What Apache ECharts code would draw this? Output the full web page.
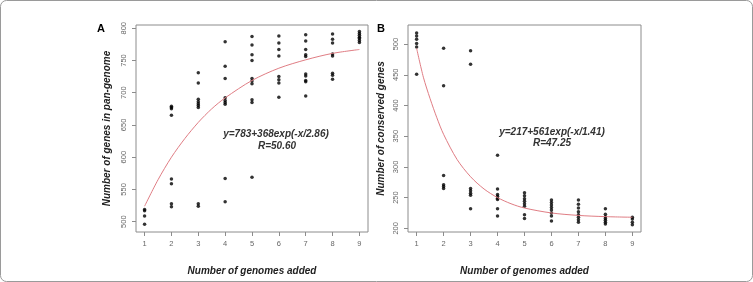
<!DOCTYPE html>
<html>
<head>
<meta charset="utf-8">
<script src="https://cdn.jsdelivr.net/npm/echarts@6/dist/echarts.min.js"></script>
<style>
  html, body { margin: 0; padding: 0; background: #fff; }
  #chart { width: 753px; height: 282px; }
</style>
</head>
<body>
<div id="chart"></div>
<script>
// number of genomes added (x ticks)
const genomes = [1, 2, 3, 4, 5, 6, 7, 8, 9]

// A: genes in pan-genome, one list per number of genomes
const panGenes = [
  [519, 517, 509, 496],
  [679, 677, 675, 665, 566, 559, 528, 523],
  [731, 715, 690, 686, 683, 680, 677, 528, 524],
  [779, 741, 722, 692, 688, 685, 682, 567, 531],
  [787, 774, 759, 750, 722, 718, 714, 689, 685, 569],
  [788, 777, 767, 757, 725, 720, 715, 693],
  [790, 780, 767, 759, 756, 729, 726, 719, 717, 695],
  [791, 783, 777, 760, 757, 730, 727, 721],
  [795, 792, 789, 786, 784, 781, 778],
]
const panTicks = [500, 550, 600, 650, 700, 750, 800]
// fitted curve
const panFitX = [1, 1.5, 2, 2.5, 3, 3.5, 4, 5, 6, 7, 8, 9]
const panFit = [524, 565, 600, 629, 654, 675, 692, 719, 738, 751, 761, 767]

// B: conserved genes
const coreGenes = [
  [518, 513, 508, 501, 495, 451],
  [493, 432, 286, 271, 268, 265],
  [489, 467, 265, 261, 257, 254, 232],
  [319, 264, 255, 252, 249, 247, 232, 220],
  [258, 253, 248, 244, 240, 236, 222, 216],
  [246, 242, 238, 234, 230, 225, 220, 212],
  [246, 239, 233, 227, 222, 218, 214, 210],
  [232, 223, 219, 216, 213, 210, 207],
  [218, 215, 210, 206],
]
const coreTicks = [200, 250, 300, 350, 400, 450, 500]
const coreFitX = [1, 1.25, 1.5, 1.75, 2, 2.5, 3, 3.5, 4, 4.5, 5, 6, 7, 8, 9]
const coreFit = [493, 446, 411, 380, 353, 312, 284, 264, 250, 240, 233, 225, 221, 219, 218]

const font = '"Liberation Sans", Arial, sans-serif'
const boxColor = '#8c8c8c'
const fitColor = '#e07d84'

function toPoints(groups) {
  const out = []
  groups.forEach((vals, i) => vals.forEach(v => out.push([genomes[i], v])))
  return out
}

function xAxisFor(gridIndex) {
  return {
    type: 'value',
    gridIndex,
    min: 0.68,
    max: 9.32,
    name: 'Number of genomes added',
    nameLocation: 'middle',
    nameGap: 34,
    nameTextStyle: { fontFamily: font, fontSize: 10, fontWeight: 'bold', fontStyle: 'italic', color: '#222' },
    axisLine: { show: false },
    splitLine: { show: false },
    axisTick: { show: true, length: 4, customValues: genomes, lineStyle: { color: boxColor } },
    axisLabel: { customValues: genomes, margin: 8, fontFamily: font, fontSize: 7.5, color: '#666' },
  }
}

function yAxisFor(gridIndex, min, max, ticks, name, gap) {
  return {
    type: 'value',
    gridIndex,
    min,
    max,
    name,
    nameLocation: 'middle',
    nameGap: gap,
    nameTextStyle: { fontFamily: font, fontSize: 10, fontWeight: 'bold', fontStyle: 'italic', color: '#222' },
    axisLine: { show: false },
    splitLine: { show: false },
    axisTick: { show: true, length: 4, customValues: ticks, lineStyle: { color: boxColor } },
    axisLabel: {
      customValues: ticks, rotate: 90, margin: 8,
      fontFamily: font, fontSize: 7.5, color: '#666',
    },
  }
}

const chart = echarts.init(document.getElementById('chart'))

const textStyle = (size, color) => ({
  fontFamily: font, fontSize: size, fontWeight: 'bold', fontStyle: 'italic',
  fill: color, align: 'center', verticalAlign: 'middle',
})

const option = {
  backgroundColor: '#fff',
  animation: false,
  grid: [
    { left: 136, top: 25, width: 232, height: 207, show: true, borderColor: boxColor, borderWidth: 1, backgroundColor: 'transparent' },
    { left: 408, top: 25, width: 233, height: 207, show: true, borderColor: boxColor, borderWidth: 1, backgroundColor: 'transparent' },
  ],
  xAxis: [xAxisFor(0), xAxisFor(1)],
  yAxis: [
    yAxisFor(0, 484, 805, panTicks, 'Number of genes in pan-genome', 24),
    yAxisFor(1, 194, 531, coreTicks, 'Number of conserved genes', 22),
  ],
  series: [
    {
      type: 'line', xAxisIndex: 0, yAxisIndex: 0,
      data: panFitX.map((x, i) => [x, panFit[i]]),
      smooth: 0.3, symbol: 'none',
      lineStyle: { color: fitColor, width: 1 },
    },
    {
      type: 'scatter', xAxisIndex: 0, yAxisIndex: 0,
      data: toPoints(panGenes),
      symbolSize: 3.5, itemStyle: { color: '#000' },
    },
    {
      type: 'line', xAxisIndex: 1, yAxisIndex: 1,
      data: coreFitX.map((x, i) => [x, coreFit[i]]),
      smooth: 0.3, symbol: 'none',
      lineStyle: { color: fitColor, width: 1 },
    },
    {
      type: 'scatter', xAxisIndex: 1, yAxisIndex: 1,
      data: toPoints(coreGenes),
      symbolSize: 3.5, itemStyle: { color: '#000' },
    },
  ],
  graphic: [
    { type: 'rect', shape: { x: 0.5, y: 0.5, width: 752, height: 281, r: 6 }, style: { fill: 'none', stroke: '#9a9a9a', lineWidth: 1 } },
    { type: 'text', x: 101, y: 29, style: { text: 'A', fontFamily: font, fontSize: 11, fontWeight: 'bold', fill: '#000', align: 'center', verticalAlign: 'middle' } },
    { type: 'text', x: 381, y: 29, style: { text: 'B', fontFamily: font, fontSize: 11, fontWeight: 'bold', fill: '#000', align: 'center', verticalAlign: 'middle' } },
    { type: 'text', x: 276, y: 134, style: Object.assign({ text: 'y=783+368exp(-x/2.86)' }, textStyle(10, '#333')) },
    { type: 'text', x: 277, y: 146, style: Object.assign({ text: 'R=50.60' }, textStyle(10, '#333')) },
    { type: 'text', x: 552, y: 132, style: Object.assign({ text: 'y=217+561exp(-x/1.41)' }, textStyle(10, '#333')) },
    { type: 'text', x: 552, y: 143, style: Object.assign({ text: 'R=47.25' }, textStyle(10, '#333')) },
  ],
}

chart.setOption(option)
</script>
</body>
</html>
